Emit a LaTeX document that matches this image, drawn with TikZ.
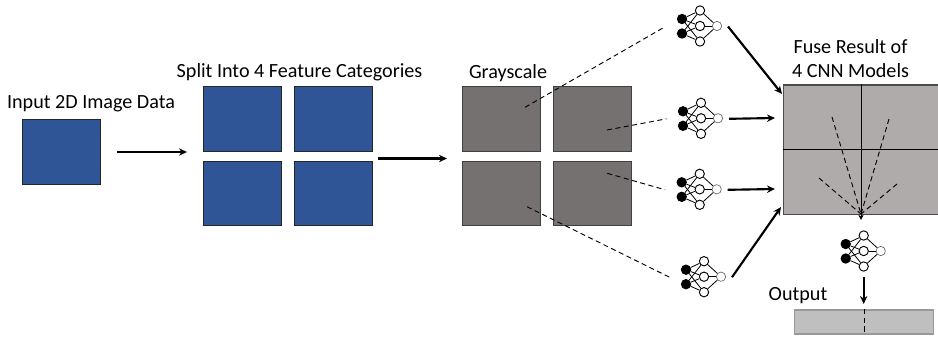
\documentclass[tikz,border=0pt]{standalone}
\usepackage{fontspec}
\setmainfont{Carlito}
\usetikzlibrary{arrows.meta}
\definecolor{imgblue}{HTML}{2F5597}
\definecolor{imggray}{HTML}{767171}
\definecolor{fusegray}{HTML}{AFABAB}
\definecolor{outgray}{HTML}{BFBFBF}
\tikzset{
    bluebox/.style={draw=black!85, fill=imgblue, line width=.8pt, minimum width=58.5pt, minimum height=48.5pt, inner sep=0pt},
    graybox/.style={draw=black!75, fill=imggray, line width=.8pt, minimum width=58.5pt, minimum height=48.5pt, inner sep=0pt},
    label/.style={font=\fontsize{15.1}{18}\selectfont, inner sep=0pt, align=center},
    arrowlink/.style={line width=1.6pt, -{Stealth[length=6pt,width=5.5pt]}},
    dashlink/.style={line width=.7pt, dash pattern=on 3.8pt off 2.6pt},
    innode/.style={circle, draw=black, fill=black, line width=.7pt, minimum size=7pt, inner sep=0pt},
    hidnode/.style={circle, draw=black, fill=white, line width=.7pt, minimum size=7pt, inner sep=0pt},
    outnode/.style={circle, draw=black!60, fill=white, line width=.5pt, minimum size=7pt, inner sep=0pt},
    netedge/.style={line width=.6pt},
    pics/cnnnet/.style={code={
        \node[innode] (-in1) at (-18,-7) {};
        \node[innode] (-in2) at (-18,7.5) {};
        \node[hidnode] (-hid1) at (0,-15.5) {};
        \node[hidnode] (-hid2) at (0,0) {};
        \node[hidnode] (-hid3) at (0,15.5) {};
        \node[outnode] (-out) at (17,0) {};
        \coordinate (-head) at (-34.5,0.5);
        \coordinate (-tail) at (28,0.5);
        \draw[netedge] (-in1) -- (-hid1);
        \draw[netedge] (-in1) -- (-hid2);
        \draw[netedge] (-in1) -- (-hid3);
        \draw[netedge] (-in2) -- (-hid1);
        \draw[netedge] (-in2) -- (-hid2);
        \draw[netedge] (-in2) -- (-hid3);
        \draw[netedge] (-hid1) -- (-out);
        \draw[netedge] (-hid2) -- (-out);
        \draw[netedge] (-hid3) -- (-out);
    }},
}
\begin{document}
\begin{tikzpicture}[x=.75pt, y=-.75pt]
    \useasboundingbox (0, 0) rectangle (938, 337);
    % input
    \node[bluebox] (input) at (61.5, 152) {};
    \node[label] (inputlabel) at (91, 103.5) {Input 2D Image Data};
    % split
    \node[bluebox] (split1) at (242.25, 119.25) {};
    \node[bluebox] (split2) at (333.25, 119.25) {};
    \node[bluebox] (split3) at (242.25, 193.5) {};
    \node[bluebox] (split4) at (333.25, 193.5) {};
    \node[label] (splitlabel) at (299.5, 72.5) {Split Into 4 Feature Categories};
    % grayscale
    \node[graybox] (gray1) at (501.25, 119.25) {};
    \node[graybox] (gray2) at (592.25, 119.25) {};
    \node[graybox] (gray3) at (501.25, 193.5) {};
    \node[graybox] (gray4) at (592.25, 193.5) {};
    \node[label] (graylabel) at (508, 73) {Grayscale};
    % fuse
    \node[draw=black!70, fill=fusegray, line width=.9pt, minimum width=117.5pt, minimum height=97pt, inner sep=0pt] (fuse) at (861.75, 149.75) {};
    \draw[line width=.9pt] (fuse.north) -- (fuse.south);
    \draw[line width=.9pt] (fuse.west) -- (fuse.east);
    \node[label] (fuselabel) at (850.5, 59) {Fuse Result of\\4 CNN Models};
    % networks
    \pic (net1) at (700, 26) {cnnnet};
    \pic (net2) at (701, 118.3) {cnnnet};
    \pic (net3) at (699.7, 189.3) {cnnnet};
    \pic (net4) at (704, 276.7) {cnnnet};
    \pic (net5) at (863.7, 251) {cnnnet};
    % output
    \node[draw=black!40, fill=outgray, line width=.9pt, minimum width=104.25pt, minimum height=18pt, inner sep=0pt] (outbox) at (864, 322) {};
    \node[label] (outlabel) at (798, 296) {Output};
    % free ends
    \coordinate (inputout) at (117, 152);
    \coordinate (splitin) at (187, 152);
    \coordinate (splitout) at (378, 158.5);
    \coordinate (grayin) at (447, 158.5);
    \coordinate (dash1) at (525, 107.3);
    \coordinate (dash2) at (607, 130);
    \coordinate (dash3) at (607.3, 173.3);
    \coordinate (dash4) at (527, 206.7);
    \coordinate (fusein1) at (782, 94);
    \coordinate (fusein2) at (775, 118);
    \coordinate (fusein3) at (775, 189);
    \coordinate (fusein4) at (781, 207);
    \coordinate (fan1) at (832, 117);
    \coordinate (fan2) at (889, 119);
    \coordinate (fan3) at (819, 178);
    \coordinate (fan4) at (897, 184);
    \coordinate (fantip) at (861, 214);
    \coordinate (fanend) at (861, 220);
    \coordinate (outstart) at (863.7, 277);
    \coordinate (outend) at (863.7, 304);
    % arrows
    \draw[arrowlink] (inputout) -- (splitin);
    \draw[arrowlink] (splitout) -- (grayin);
    \draw[arrowlink] (net1-tail) -- (fusein1);
    \draw[arrowlink] (net2-tail) -- (fusein2);
    \draw[arrowlink] (net3-tail) -- (fusein3);
    \draw[arrowlink] (net4-tail) -- (fusein4);
    \draw[arrowlink] (outstart) -- (outend);
    % dashed
    \draw[dashlink] (dash1) -- (net1-head);
    \draw[dashlink] (dash2) -- (net2-head);
    \draw[dashlink] (dash3) -- (net3-head);
    \draw[dashlink] (dash4) -- (net4-head);
    \draw[dashlink] (fan1) -- (fantip);
    \draw[dashlink] (fan2) -- (fantip);
    \draw[dashlink] (fan3) -- (fantip);
    \draw[dashlink] (fan4) -- (fantip);
    \draw[line width=.7pt, -{Stealth[length=4pt,width=4pt]}] (fantip) -- (fanend);
    \draw[dashlink] (outbox.north) -- (outbox.south);
\end{tikzpicture}
\end{document}
